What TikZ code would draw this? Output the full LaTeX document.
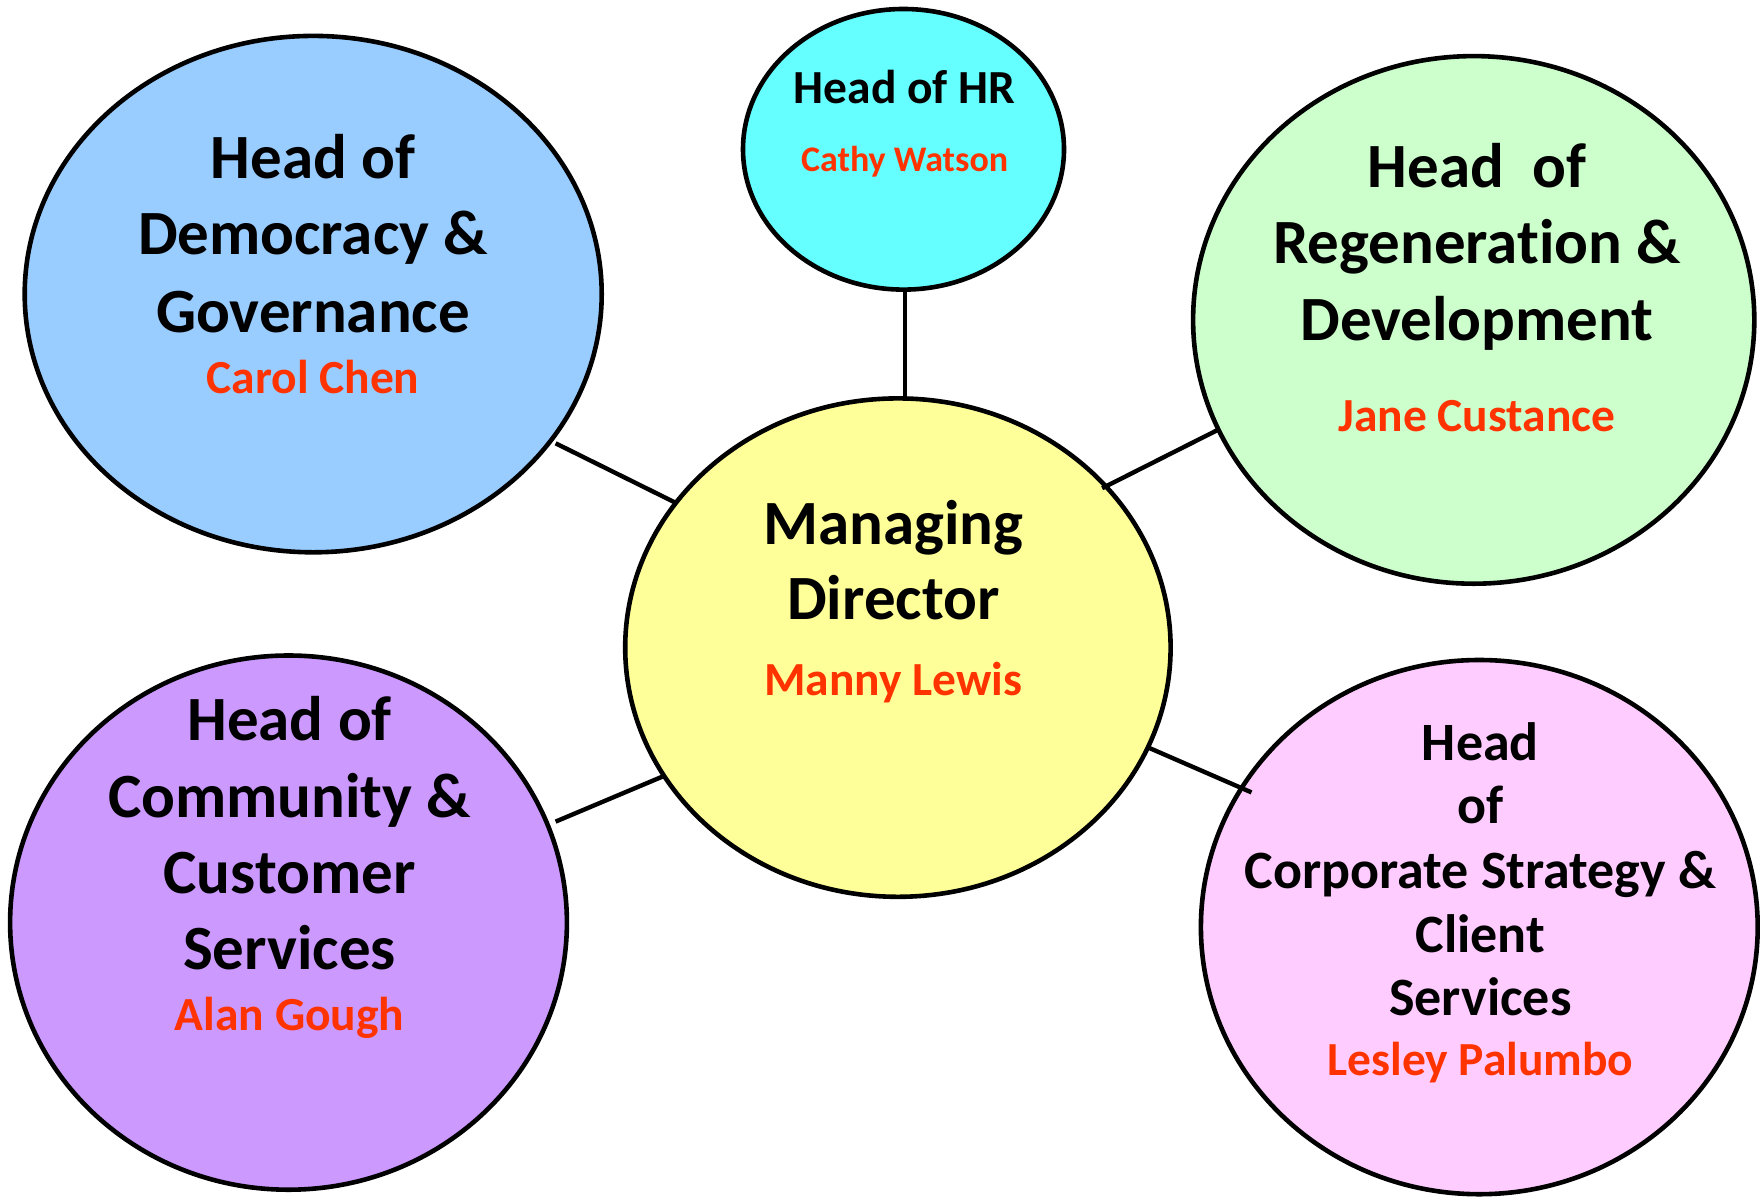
\documentclass[tikz,border=0pt]{standalone}
\usepackage{fontspec}
\setmainfont[RawFeature={-liga;-clig;-calt}]{Carlito}
\definecolor{cblue}{HTML}{99CCFF}
\definecolor{ccyan}{HTML}{66FFFF}
\definecolor{cgreen}{HTML}{CCFFCC}
\definecolor{cyellow}{HTML}{FFFF99}
\definecolor{cpurple}{HTML}{CC99FF}
\definecolor{cpink}{HTML}{FFCCFF}
\definecolor{cname}{HTML}{FF3300}
\begin{document}
\begin{tikzpicture}[x=1pt,y=-1pt,
  bubble/.style={draw=black,line width=4.6pt},
  link/.style={draw=black,line width=4.4pt},
  ttl/.style={anchor=base,inner sep=0pt,font=\fontsize{63}{70}\selectfont\bfseries},
  ttlmid/.style={anchor=base,inner sep=0pt,font=\fontsize{54}{60}\selectfont\bfseries},
  ttlsm/.style={anchor=base,inner sep=0pt,font=\fontsize{47.5}{54}\selectfont\bfseries},
  nm/.style={anchor=base,inner sep=0pt,text=cname,font=\fontsize{47.5}{54}\selectfont\bfseries},
  nmsm/.style={anchor=base,inner sep=0pt,text=cname,font=\fontsize{36}{40}\selectfont\bfseries}]
\useasboundingbox (0,0) rectangle (1760,1199);
% connectors
\coordinate (hrA) at (904.7,291.8); \coordinate (hrB) at (904.7,398.5);
\coordinate (dmA) at (555.6,443.3); \coordinate (dmB) at (675.7,502.8);
\coordinate (rgA) at (1102.2,488.2); \coordinate (rgB) at (1217.8,429.9);
\coordinate (cmA) at (555.6,821.6); \coordinate (cmB) at (662.2,776.7);
\coordinate (cpA) at (1148.2,747.5); \coordinate (cpB) at (1251.5,792.4);
% bubbles
\draw[bubble,fill=cblue] (313.2,294.1) ellipse [x radius=288.5,y radius=258.2];
\draw[bubble,fill=ccyan] (903.5,149.3) ellipse [x radius=160.5,y radius=140.3];
\draw[bubble,fill=cgreen] (1473.7,319.9) ellipse [x radius=280.6,y radius=263.8];
\draw[bubble,fill=cpurple] (288.5,922.6) ellipse [x radius=278.4,y radius=267.1];
\draw[bubble,fill=cpink] (1479.3,927.1) ellipse [x radius=278.4,y radius=267.1];
\draw[bubble,fill=cyellow] (897.9,647.6) ellipse [x radius=272.7,y radius=249.2];
\draw[link] (hrA) -- (hrB);
\draw[link] (dmA) -- (dmB);
\draw[link] (rgA) -- (rgB);
\draw[link] (cmA) -- (cmB);
\draw[link] (cpA) -- (cpB);
% texts
\node[ttlsm] (hr1) at (904.6,103.3) {Head of HR};
\node[nmsm] (hr2) at (904.6,171.7) {Cathy Watson};
\node[ttl] (dm1) at (313,178) {Head of};
\node[ttl] (dm2) at (313,254) {Democracy \&};
\node[ttl] (dm3) at (313,332) {Governance};
\node[nm] (dm4) at (313,393) {Carol Chen};
\node[ttl] (rg1) at (1477,187.4) {Head\ \ of};
\node[ttl] (rg2) at (1477,263.8) {Regenerat\kern0pt ion \&};
\node[ttl] (rg3) at (1477,340.1) {Development};
\node[nm] (rg4) at (1477,431) {Jane Custance};
\node[ttl] (md1) at (893.4,544.4) {Managing};
\node[ttl] (md2) at (893.4,619.6) {Director};
\node[nm] (md3) at (893.4,695.9) {Manny Lewis};
\node[ttl] (cm1) at (289.6,740.8) {Head of};
\node[ttl] (cm2) at (289.6,817.1) {Community \&};
\node[ttl] (cm3) at (289.6,893.4) {Customer};
\node[ttl] (cm4) at (289.6,969.7) {Services};
\node[nm] (cm5) at (289.6,1030.4) {Alan Gough};
\node[ttlmid] (cp1) at (1480.4,760) {Head};
\node[ttlmid] (cp2) at (1480.4,823) {of};
\node[ttlmid] (cp3) at (1480.4,888) {Corporate Strategy \&};
\node[ttlmid] (cp4) at (1480.4,952) {Client};
\node[ttlmid] (cp5) at (1480.4,1015) {Services};
\node[nm] (cp6) at (1480.4,1075) {Lesley Palumbo};
\end{tikzpicture}
\end{document}
